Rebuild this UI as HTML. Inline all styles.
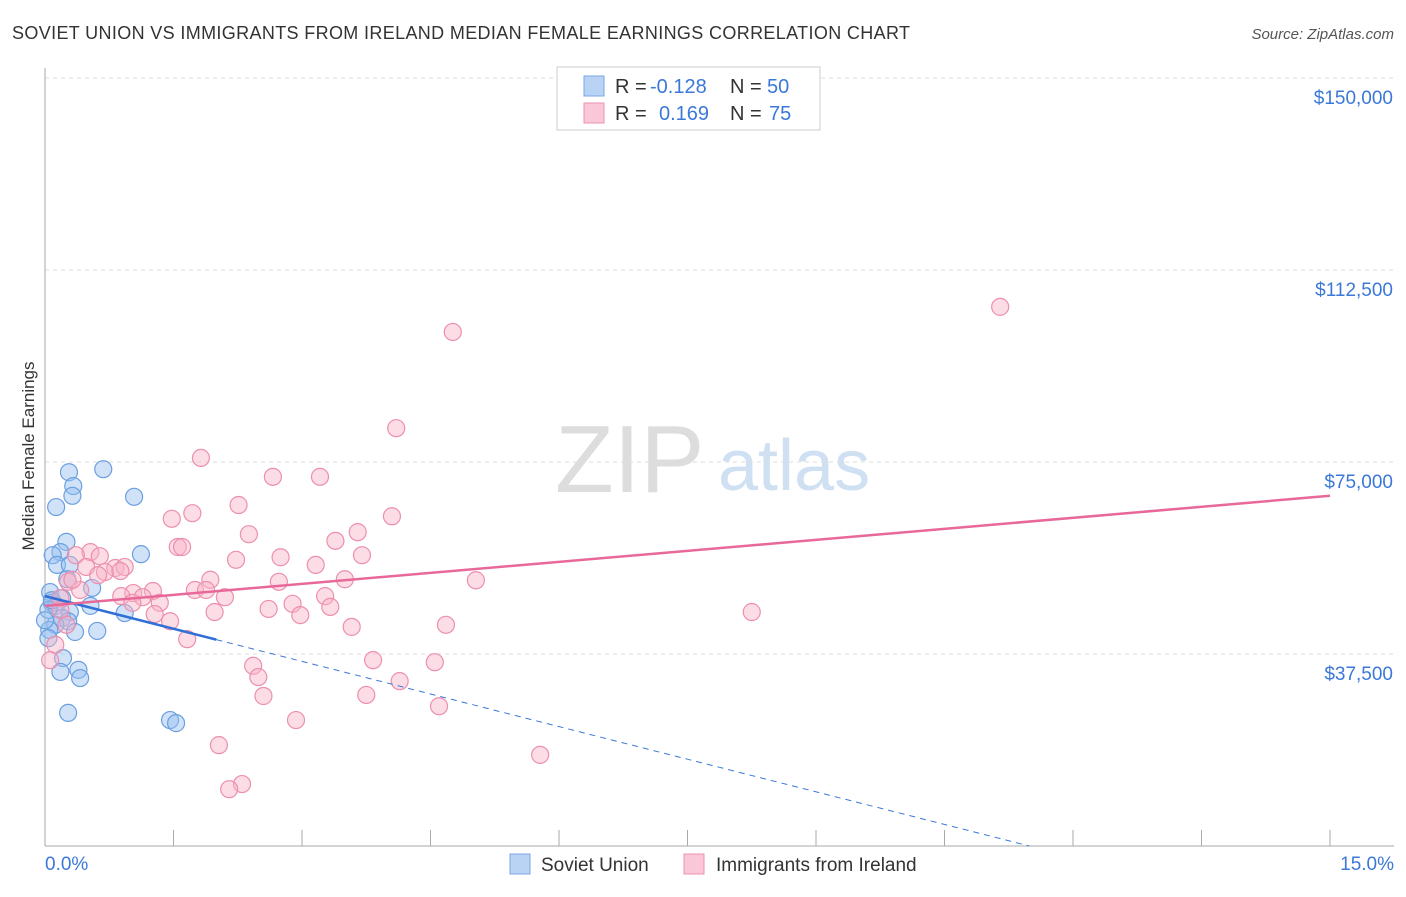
<!DOCTYPE html>
<html><head><meta charset="utf-8"><style>
body{margin:0;background:#fff;font-family:"Liberation Sans",sans-serif;}
svg text{font-family:"Liberation Sans",sans-serif;}
</style></head><body>
<svg id="chart" width="1406" height="892">
<text x="12" y="39" font-size="18" fill="#333" textLength="898">SOVIET UNION VS IMMIGRANTS FROM IRELAND MEDIAN FEMALE EARNINGS CORRELATION CHART</text>
<text x="1394" y="39" font-size="15" fill="#555" font-style="italic" text-anchor="end">Source: ZipAtlas.com</text>
<text x="0" y="0" transform="translate(34,456) rotate(-90)" font-size="17" fill="#333" text-anchor="middle">Median Female Earnings</text>
<text x="555" y="492" font-size="96" fill="#ddd" font-family="Liberation Serif">ZIP</text>
<text x="718" y="490" font-size="72" fill="#cfe0f3">atlas</text>
<g id="grid"></g><g id="marks"></g>
<g>
<rect x="557" y="67" width="263" height="63" fill="#fff" stroke="#ccc"/>
<rect x="584" y="76" width="20" height="20" fill="#b9d3f5" stroke="#7aa7e6"/>
<rect x="584" y="103" width="20" height="20" fill="#f9c7d7" stroke="#eb93b0"/>
<text y="93" font-size="20" fill="#333"><tspan x="615">R =</tspan><tspan x="650" fill="#3b78d8">-0.128</tspan><tspan x="730">N =</tspan><tspan x="767" fill="#3b78d8">50</tspan></text>
<text y="120" font-size="20" fill="#333"><tspan x="615">R =</tspan><tspan x="659" fill="#3b78d8">0.169</tspan><tspan x="730">N =</tspan><tspan x="769" fill="#3b78d8">75</tspan></text>
</g>
<g>
<rect x="510" y="854" width="20" height="20" fill="#b9d3f5" stroke="#7aa7e6"/>
<text x="541" y="871" font-size="19" fill="#333">Soviet Union</text>
<rect x="684" y="854" width="20" height="20" fill="#f9c7d7" stroke="#eb93b0"/>
<text x="716" y="871" font-size="19" fill="#333">Immigrants from Ireland</text>
</g>
</svg>
<script>
const yTicks=[37500,75000,112500,150000];
const yTickLabels=["$37,500","$75,000","$112,500","$150,000"];
const xEndLabels=["0.0%","15.0%"];
const blueX=[0.28,0.68,0.33,0.32,1.04,0.13,0.25,0.18,1.12,0.09,0.14,0.29,0.26,0.55,0.06,0.20,0.08,0.13,0.53,0.04,0.29,0.93,0.20,0.27,0.12,0.05,0.61,0.35,0.04,0.21,0.18,0.39,0.41,0.27,1.46,1.53,0.0,0.08];
const blueY=[73.0,73.6,70.3,68.4,68.2,66.2,59.4,57.4,57.0,56.8,54.9,54.9,52.1,50.4,49.6,48.4,47.5,46.9,46.9,46.1,45.7,45.5,44.5,43.9,43.2,42.2,42.0,41.8,40.6,36.7,34.0,34.4,32.8,26.0,24.6,24.0,44.1,48.0];
const pinkX=[4.76,11.15,4.10,1.82,2.66,3.21,2.26,1.72,1.48,4.05,2.38,3.65,3.39,1.55,1.60,0.53,0.64,0.36,2.23,2.75,3.70,3.16,0.48,0.82,0.93,0.70,0.88,0.62,1.93,2.73,3.50,5.03,0.27,1.26,1.75,1.88,2.10,1.03,1.14,0.89,3.27,1.34,1.02,2.89,2.61,3.33,1.98,2.98,1.28,8.25,1.46,3.58,4.68,1.66,0.12,3.83,4.55,2.43,2.49,4.14,2.55,3.75,4.60,2.93,2.03,5.78,2.30,2.15,0.25,0.18,0.41,0.06,0.32,0.18];
const pinkY=[100.4,105.3,81.6,75.8,72.1,72.1,66.6,65.0,63.9,64.4,60.9,61.3,59.6,58.4,58.4,57.4,56.6,56.8,55.9,56.4,56.8,54.9,54.5,54.3,54.5,53.5,53.7,52.9,52.0,51.6,52.1,51.9,51.6,49.8,50.0,50.0,48.6,49.4,48.6,48.8,48.8,47.5,47.5,47.3,46.3,46.7,45.7,45.1,45.3,45.7,43.9,42.8,43.2,40.4,39.3,36.3,35.9,35.2,33.0,32.2,29.3,29.5,27.3,24.6,19.7,17.8,12.1,11.1,43.2,48.4,50.0,36.3,52.0,46.1];
const pinkTrend=[46.9,68.4];
const blueTrend=[48.8,-14.9];
const blueSolidEnd=2.0;
const X=v=>45+v/15*1285, Y=v=>846-v*1000/37500*192;
const NS="http://www.w3.org/2000/svg";
function mk(t,a,p){const e=document.createElementNS(NS,t);for(const k in a)e.setAttribute(k,a[k]);p.appendChild(e);return e;}
const g=document.getElementById('grid'),m=document.getElementById('marks');
yTicks.forEach((t,i)=>{
 const l=mk('line',{x1:45,x2:1394,y1:Y(t/1000),y2:Y(t/1000),stroke:'#ddd','stroke-dasharray':'4,4'},g);
 
 
 const tx=mk('text',{x:1393,y:Y(t/1000)+26,'font-size':19,fill:'#3b78d8','text-anchor':'end'},g);tx.textContent=yTickLabels[i];
 
 
});
const ax=mk('line',{x1:45,x2:45,y1:68,y2:846,stroke:'#aaa'},g);


const bx=mk('line',{x1:45,x2:1394,y1:846,y2:846,stroke:'#aaa'},g);


for(let i=0;i<=10;i++){const t=mk('line',{x1:X(i*1.5),x2:X(i*1.5),y1:830,y2:846,stroke:'#aaa'},g);
 
 }
[[0,45,'start'],[1,1394,'end']].forEach(([i,x,a])=>{const t=mk('text',{x:x,y:870,'font-size':19,fill:'#3b78d8','text-anchor':a},g);t.textContent=xEndLabels[i];
 
 });
blueX.forEach((v,i)=>{const c=mk('circle',{cx:X(v),cy:Y(blueY[i]),r:8.5,fill:'rgba(150,190,240,0.45)',stroke:'#6b9fe0','stroke-width':1.2},m);
 
 });
pinkX.forEach((v,i)=>{const c=mk('circle',{cx:X(v),cy:Y(pinkY[i]),r:8.5,fill:'rgba(248,180,200,0.45)',stroke:'#ec8fae','stroke-width':1.2},m);
 
 });
const bY=x=>blueTrend[0]+(blueTrend[1]-blueTrend[0])*x/15;
const xz=15*blueTrend[0]/(blueTrend[0]-blueTrend[1]);
const bd=mk('line',{x1:X(blueSolidEnd),y1:Y(bY(blueSolidEnd)),x2:X(xz),y2:Y(0),stroke:'#3b78d8','stroke-width':1,'stroke-dasharray':'6,5'},m);


const bs=mk('line',{x1:X(0),y1:Y(bY(0)),x2:X(blueSolidEnd),y2:Y(bY(blueSolidEnd)),stroke:'#2f6fd6','stroke-width':2.5},m);


const pt=mk('line',{x1:X(0),y1:Y(pinkTrend[0]),x2:X(15),y2:Y(pinkTrend[1]),stroke:'#e8689a','stroke-width':2.5},m);


</script>
</body></html>
